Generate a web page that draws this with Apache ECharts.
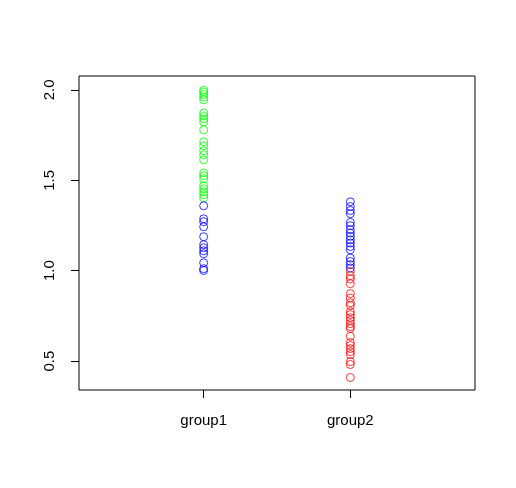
<!DOCTYPE html>
<html>
<head>
<meta charset="utf-8">
<script src="https://cdn.jsdelivr.net/npm/echarts@6/dist/echarts.min.js"></script>
<style>
  html, body { margin: 0; padding: 0; background: #fff; }
  #chart { width: 516px; height: 488px; }
</style>
</head>
<body>
<div id="chart"></div>
<script>
// categories and tick labels
const groups = ["group1", "group2"];
const yTicks = [0.5, 1.0, 1.5, 2.0];

// values
const group1Green = [1.998, 1.989, 1.975, 1.961, 1.945, 1.873, 1.856, 1.840, 1.823, 1.779,
    1.713, 1.691, 1.663, 1.641, 1.613, 1.541, 1.525, 1.508, 1.470, 1.453, 1.436, 1.420, 1.403];
const group1Blue = [1.359, 1.287, 1.271, 1.243, 1.188, 1.144, 1.127, 1.110, 1.094, 1.044, 1.011, 1.001];
const group2Blue = [1.381, 1.355, 1.333, 1.315, 1.267, 1.249, 1.227, 1.208, 1.190, 1.171,
    1.153, 1.134, 1.116, 1.070, 1.051, 1.033, 1.015];
const group2Red = [0.996, 0.972, 0.954, 0.928, 0.873, 0.849, 0.822, 0.807, 0.773, 0.757,
    0.740, 0.724, 0.707, 0.691, 0.680, 0.637, 0.602, 0.586, 0.569, 0.552, 0.536, 0.497, 0.481, 0.409];

const FONT = "Liberation Sans, Arial, sans-serif";

//one hollow-circle series per colour
function pointSeries(groupIndex, values, color) {
    return {
        type: "scatter",
        symbol: "circle",
        symbolSize: 8,
        data: values.map(v => [groupIndex + 1, v]),
        itemStyle: { color: "rgba(0,0,0,0)", borderColor: color, borderWidth: 1 },
        emphasis: { disabled: true },
        animation: false
    };
}

let myChart = echarts.init(document.getElementById("chart"), null, { renderer: "canvas" });

let option = {
    backgroundColor: "#fff",
    grid: {
        left: 79, top: 76, right: 41, bottom: 98,
        show: true,
        borderColor: "#000",
        borderWidth: 1,
        backgroundColor: "transparent"
    },
    xAxis: {
        type: "value",
        min: 0.15,
        max: 2.85,
        axisLine: { show: false },
        splitLine: { show: false },
        axisTick: { show: true, length: 8, lineStyle: { color: "#000" }, customValues: [1, 2] },
        axisLabel: {
            customValues: [1, 2],
            formatter: v => groups[Math.round(v) - 1] || "",
            color: "#000",
            fontFamily: FONT,
            fontSize: 15,
            margin: 23
        }
    },
    yAxis: {
        type: "value",
        min: 0.34,
        max: 2.077,
        axisLine: { show: false },
        splitLine: { show: false },
        axisTick: { show: true, length: 8, lineStyle: { color: "#000" }, customValues: yTicks },
        axisLabel: {
            customValues: yTicks,
            formatter: v => v.toFixed(1),
            rotate: 90,
            color: "#000",
            fontFamily: FONT,
            fontSize: 15,
            margin: 22
        }
    },
    series: [
        pointSeries(0, group1Green, "#00FF00"),
        pointSeries(0, group1Blue, "#0000FF"),
        pointSeries(1, group2Blue, "#0000FF"),
        pointSeries(1, group2Red, "#FF0000")
    ],
    animation: false
};

myChart.setOption(option);
</script>
</body>
</html>
